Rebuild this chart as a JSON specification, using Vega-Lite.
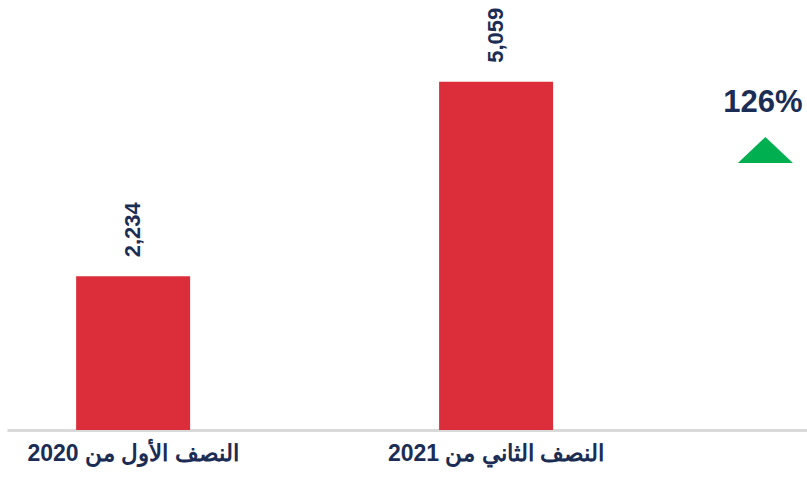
{
  "$schema": "https://vega.github.io/schema/vega-lite/v6.json",
  "width": 800,
  "height": 413,
  "autosize": "none",
  "padding": {"left": 7, "top": 17, "right": 0, "bottom": 49},
  "background": "white",
  "config": {"view": {"stroke": null}},
  "layer": [
    {
      "data": {"values": [
        {"period": "النصف الأول من 2020", "value": 2234},
        {"period": "النصف الثاني من 2021", "value": 5059}
      ]},
      "encoding": {
        "x": {
          "field": "period", "type": "nominal", "sort": null,
          "scale": {"paddingInner": 0.686, "paddingOuter": 0.445, "align": 0.214},
          "axis": {"title": null, "labelAngle": 0, "ticks": false, "domainColor": "#d9d9d9", "domainWidth": 3,
                   "labelFont": "Liberation Sans", "labelFontSize": 23, "labelFontWeight": "bold",
                   "labelColor": "#1b2d55", "labelPadding": 12, "labelLimit": 0, "labelOverlap": false}
        },
        "y": {"field": "value", "type": "quantitative", "scale": {"domain": [0, 6000]}, "axis": null}
      },
      "layer": [
        {"mark": {"type": "bar", "color": "#dc2d3b"}},
        {
          "mark": {"type": "text", "angle": 270, "align": "left", "baseline": "middle", "dx": 19,
                   "font": "Liberation Sans", "fontSize": 22, "fontWeight": "bold", "color": "#1b2d55"},
          "encoding": {"text": {"field": "value", "type": "quantitative", "format": ","}}
        }
      ]
    },
    {
      "data": {"values": [
        {"kind": "label", "pos": 94.5, "value": 4750, "label": "126%"},
        {"kind": "arrow", "pos": 94.8, "value": 4068, "label": ""}
      ]},
      "encoding": {
        "x": {"field": "pos", "type": "quantitative", "scale": {"domain": [0, 100]}, "axis": null},
        "y": {"field": "value", "type": "quantitative"}
      },
      "layer": [
        {
          "transform": [{"filter": "datum.kind === 'label'"}],
          "mark": {"type": "text", "align": "center", "baseline": "middle", "font": "Liberation Sans",
                   "fontSize": 31, "fontWeight": "bold", "color": "#1b2d55"},
          "encoding": {"text": {"field": "label"}}
        },
        {
          "transform": [{"filter": "datum.kind === 'arrow'"}],
          "mark": {"type": "point", "shape": "M-1,0.473L1,0.473L0,-0.473Z", "filled": true,
                   "color": "#00b050", "opacity": 1, "size": 3025, "strokeWidth": 0}
        }
      ]
    }
  ],
  "resolve": {"scale": {"x": "independent"}}
}
